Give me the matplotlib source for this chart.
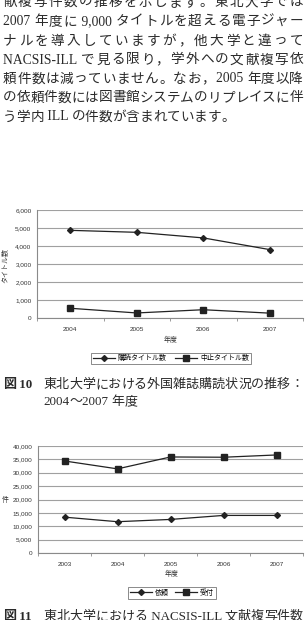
import re
import numpy as np
import matplotlib
matplotlib.use("Agg")
import matplotlib.pyplot as plt
from matplotlib.ticker import FuncFormatter, FixedLocator

W, H = 305, 620

# body text of the page (justified lines, last one ragged)
para_lines = [
    "献複写件数の推移を示します。東北大学では",
    "2007 年度に 9,000 タイトルを超える電子ジャー",
    "ナルを導入していますが，他大学と違って",
    "NACSIS-ILL で見る限り，学外への文献複写依",
    "頼件数は減っていません。なお，2005 年度以降",
    "の依頼件数には図書館システムのリプレイスに伴",
    "う学内 ILL の件数が含まれています。",
]

# figure 10
years1 = ["2004", "2005", "2006", "2007"]
subscribed = [4870, 4760, 4450, 3800]
cancelled = [540, 280, 460, 270]
labels1 = ["購読タイトル数", "中止タイトル数"]

# figure 11
years2 = ["2003", "2004", "2005", "2006", "2007"]
requests = [13400, 11700, 12550, 14050, 14050]
received = [34400, 31450, 35900, 35800, 36650]
labels2 = ["依頼", "受付"]

serif = ["Liberation Serif", "Noto Sans CJK JP"]
sans = ["Liberation Sans", "Noto Sans CJK JP"]

fig = plt.figure(figsize=(W / 100, H / 100), dpi=100)
renderer = fig.canvas.get_renderer()


def fx(x):
    return x / W


def fy(y):
    return 1 - y / H


def text_width(s, size, fam):
    t = fig.text(0, 0, s, fontsize=size, family=fam)
    w = t.get_window_extent(renderer).width
    t.remove()
    return w


def put_line(s, y, x0, x1, size, fam, justify=True, weight="normal"):
    tokens = re.findall(r"[ -~]+|.", s)
    widths = [text_width(t, size, fam) for t in tokens]
    gap = 0
    if justify and len(tokens) > 1:
        gap = (x1 - x0 - sum(widths)) / (len(tokens) - 1)
    x = x0
    for tok, w in zip(tokens, widths):
        fig.text(fx(x), fy(y), tok, fontsize=size, family=fam, weight=weight,
                 ha="left", va="center", color="#2a2a2a")
        x += w + gap


line_y = [2.5, 21.5, 41, 60, 79, 98, 117]
for i, s in enumerate(para_lines):
    put_line(s, line_y[i], 3, 303, 9.8, serif, justify=i < len(para_lines) - 1)


def style_axes(ax, cats, ymax, step):
    n = len(cats)
    ax.set_xlim(-0.5, n - 0.5)
    ax.set_ylim(0, ymax)
    ax.set_xticks(range(n))
    ax.set_xticklabels(cats)
    ax.xaxis.set_minor_locator(FixedLocator(np.arange(-0.5, n, 1.0)))
    ax.set_yticks(np.arange(0, ymax + 1, step))
    ax.yaxis.set_major_formatter(FuncFormatter(lambda v, p: f"{int(v):,}"))
    ax.grid(axis="y", color="#a0a0a0", lw=0.8)
    ax.set_axisbelow(True)
    for sp in ["top", "right"]:
        ax.spines[sp].set_visible(False)
    for sp in ["left", "bottom"]:
        ax.spines[sp].set_color("#8a8a8a")
        ax.spines[sp].set_linewidth(0.8)
    ax.tick_params(axis="x", which="major", length=0, pad=6.5, labelsize=4.6,
                   labelcolor="#333333")
    ax.tick_params(axis="x", which="minor", length=2.5, color="#8a8a8a")
    ax.tick_params(axis="y", length=0, pad=4, labelsize=4.6, labelcolor="#333333")
    for lab in ax.get_xticklabels() + ax.get_yticklabels():
        lab.set_family(sans)


line_kw = dict(color="#222222", lw=0.9)

# ---- figure 10
ax1 = fig.add_axes([fx(37), fy(318), fx(303) - fx(37), fy(210) - fy(318)])
x1 = np.arange(len(years1))
ax1.plot(x1, subscribed, marker="D", ms=3, label=labels1[0], **line_kw)
ax1.plot(x1, cancelled, marker="s", ms=4.5, label=labels1[1], **line_kw)
style_axes(ax1, years1, 6000, 1000)
fig.text(fx(171), fy(340), "年度", fontsize=5, family=sans, ha="center",
         va="center", color="#333333")
fig.text(fx(6), fy(266), "タイトル数", fontsize=5, family=sans, rotation=90,
         ha="center", va="center", color="#333333")
leg1 = ax1.legend(loc="center", bbox_to_anchor=(fx(171), fy(358.5)),
                  bbox_transform=fig.transFigure, ncol=2,
                  prop={"family": sans, "size": 5}, handlelength=3.2,
                  columnspacing=1.2, handletextpad=0.4, borderpad=0.3,
                  fancybox=False, edgecolor="#777777", framealpha=1)
leg1.get_frame().set_linewidth(0.6)

put_line("図 10", 385, 3, 33, 9.4, serif, justify=False, weight="bold")
put_line("東北大学における外国雑誌購読状況の推移：", 385, 43, 303, 9.4, serif)
put_line("2004～2007 年度", 402, 43, 303, 9.4, serif, justify=False)

# ---- figure 11
ax2 = fig.add_axes([fx(38), fy(553), fx(303) - fx(38), fy(446) - fy(553)])
x2 = np.arange(len(years2))
ax2.plot(x2, requests, marker="D", ms=3, label=labels2[0], **line_kw)
ax2.plot(x2, received, marker="s", ms=4.5, label=labels2[1], **line_kw)
style_axes(ax2, years2, 40000, 5000)
fig.text(fx(172), fy(574), "年度", fontsize=5, family=sans, ha="center",
         va="center", color="#333333")
fig.text(fx(5), fy(500), "件", fontsize=5, family=sans, ha="center",
         va="center", color="#333333")
leg2 = ax2.legend(loc="center", bbox_to_anchor=(fx(172), fy(593)),
                  bbox_transform=fig.transFigure, ncol=2,
                  prop={"family": sans, "size": 5}, handlelength=3.2,
                  columnspacing=0.8, handletextpad=0.4, borderpad=0.3,
                  fancybox=False, edgecolor="#777777", framealpha=1)
leg2.get_frame().set_linewidth(0.6)

put_line("図 11", 617, 3, 33, 9.4, serif, justify=False, weight="bold")
put_line("東北大学における NACSIS-ILL 文献複写件数", 617, 43, 303, 9.4, serif)

fig.savefig("out.png", dpi=100)
